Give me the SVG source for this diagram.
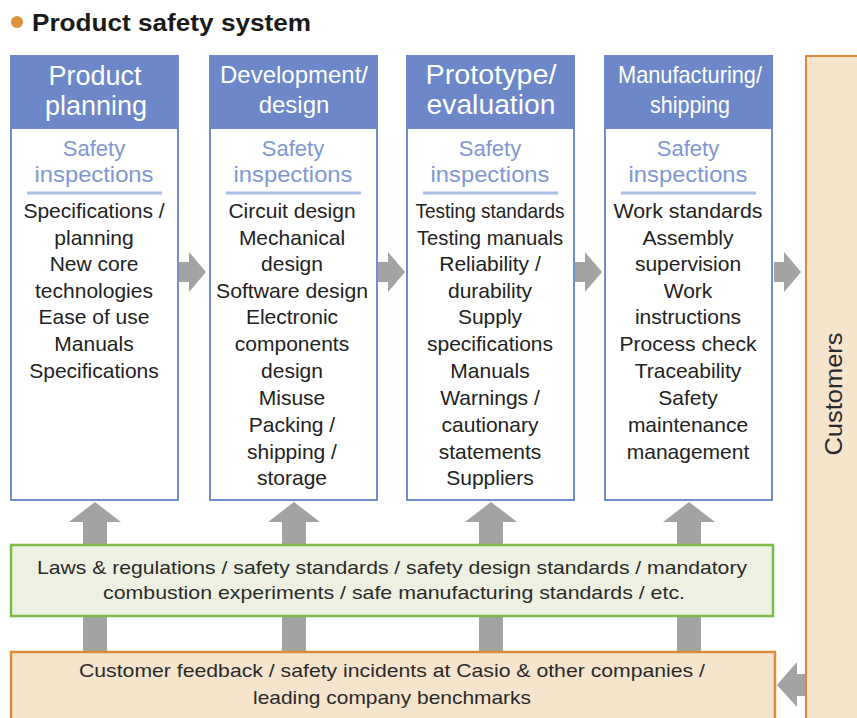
<svg xmlns="http://www.w3.org/2000/svg" width="857" height="718" viewBox="0 0 857 718">
<defs>
<style>
.hdr{fill:#6d88c9;stroke:#6d88c9;stroke-width:2}
.col{fill:#ffffff;stroke:#6f8fd0;stroke-width:2}
.ht{font-family:"Liberation Sans",Arial,sans-serif;fill:#ffffff;text-anchor:middle}
.si{font-family:"Liberation Sans",Arial,sans-serif;font-size:22px;fill:#7f98d4;text-anchor:middle}
.bt{font-family:"Liberation Sans",Arial,sans-serif;font-size:21px;fill:#222222;text-anchor:middle}
.ul{stroke:#a9bde3;stroke-width:3}
.arr{fill:#a3a3a3}
.gt{font-family:"Liberation Sans",Arial,sans-serif;font-size:19px;fill:#2a2a2a;text-anchor:middle}
</style>
</defs>
<rect x="0" y="0" width="857" height="718" fill="#ffffff"/>
<g id="title">
<circle cx="17" cy="22" r="6" fill="#e0913a"/>
<text x="32" y="31" font-family="Liberation Sans,Arial,sans-serif" font-size="23" font-weight="bold" fill="#1a1a1a" textLength="279" lengthAdjust="spacingAndGlyphs">Product safety system</text>
</g>
<g id="connectors">
<path class="arr" d="M179,262 H189 V252 L206,272 L189,292 V282 H179 Z"/>
<path class="arr" d="M378,262 H388 V252 L405,272 L388,292 V282 H378 Z"/>
<path class="arr" d="M575,262 H585 V252 L602,272 L585,292 V282 H575 Z"/>
<path class="arr" d="M774,262 H784 V252 L801,272 L784,292 V282 H774 Z"/>
<path class="arr" d="M83,545 V522 H69 L95,502 L121,522 H107 V545 Z"/>
<path class="arr" d="M282,545 V522 H268 L294,502 L320,522 H306 V545 Z"/>
<path class="arr" d="M479,545 V522 H465 L491,502 L517,522 H503 V545 Z"/>
<path class="arr" d="M677,545 V522 H663 L689,502 L715,522 H701 V545 Z"/>
<rect class="arr" x="83" y="616" width="24" height="37"/>
<rect class="arr" x="282" y="616" width="24" height="37"/>
<rect class="arr" x="479" y="616" width="24" height="37"/>
<rect class="arr" x="677" y="616" width="24" height="37"/>
<path class="arr" d="M806,674 H797 V662 L777,685 L797,707 V696 H806 Z"/>
</g>
<g id="customers">
<rect x="806" y="56" width="60" height="670" fill="#f6e4cc" stroke="#de8a3a" stroke-width="2"/>
<text transform="translate(842,394) rotate(-90)" text-anchor="middle" font-family="Liberation Sans,Arial,sans-serif" font-size="24" fill="#2a2a2a" textLength="123" lengthAdjust="spacingAndGlyphs">Customers</text>
</g>
<g id="product-planning">
<rect class="col" x="11" y="56" width="167" height="444"/>
<rect class="hdr" x="11" y="56" width="167" height="72"/>
<text class="ht" font-size="27" x="95" y="85">Product</text>
<text class="ht" font-size="27" x="96" y="115">planning</text>
<text class="si" x="94" y="156">Safety</text>
<text class="si" x="94" y="182" textLength="119" lengthAdjust="spacingAndGlyphs">inspections</text>
<line class="ul" x1="27" y1="193" x2="162" y2="193"/>
<text class="bt" x="94" y="218">Specifications /</text>
<text class="bt" x="94" y="245">planning</text>
<text class="bt" x="94" y="271">New core</text>
<text class="bt" x="94" y="298">technologies</text>
<text class="bt" x="94" y="324">Ease of use</text>
<text class="bt" x="94" y="351">Manuals</text>
<text class="bt" x="94" y="378">Specifications</text>
</g>
<g id="development-design">
<rect class="col" x="210" y="56" width="167" height="444"/>
<rect class="hdr" x="210" y="56" width="167" height="72"/>
<text class="ht" font-size="24" x="294" y="83" textLength="148" lengthAdjust="spacingAndGlyphs">Development/</text>
<text class="ht" font-size="24" x="294" y="113">design</text>
<text class="si" x="293" y="156">Safety</text>
<text class="si" x="293" y="182" textLength="119" lengthAdjust="spacingAndGlyphs">inspections</text>
<line class="ul" x1="226" y1="193" x2="361" y2="193"/>
<text class="bt" x="292" y="218">Circuit design</text>
<text class="bt" x="292" y="245">Mechanical</text>
<text class="bt" x="292" y="271">design</text>
<text class="bt" x="292" y="298" textLength="152" lengthAdjust="spacingAndGlyphs">Software design</text>
<text class="bt" x="292" y="324">Electronic</text>
<text class="bt" x="292" y="351">components</text>
<text class="bt" x="292" y="378">design</text>
<text class="bt" x="292" y="405">Misuse</text>
<text class="bt" x="292" y="432">Packing /</text>
<text class="bt" x="292" y="459">shipping /</text>
<text class="bt" x="292" y="485">storage</text>
</g>
<g id="prototype-evaluation">
<rect class="col" x="407" y="56" width="167" height="444"/>
<rect class="hdr" x="407" y="56" width="167" height="72"/>
<text class="ht" font-size="27" x="491" y="84" textLength="131" lengthAdjust="spacingAndGlyphs">Prototype/</text>
<text class="ht" font-size="27" x="491" y="114" textLength="129" lengthAdjust="spacingAndGlyphs">evaluation</text>
<text class="si" x="490" y="156">Safety</text>
<text class="si" x="490" y="182" textLength="119" lengthAdjust="spacingAndGlyphs">inspections</text>
<line class="ul" x1="423" y1="193" x2="558" y2="193"/>
<text class="bt" x="490" y="218" textLength="149" lengthAdjust="spacingAndGlyphs">Testing standards</text>
<text class="bt" x="490" y="245" textLength="146" lengthAdjust="spacingAndGlyphs">Testing manuals</text>
<text class="bt" x="490" y="271">Reliability /</text>
<text class="bt" x="490" y="298">durability</text>
<text class="bt" x="490" y="324">Supply</text>
<text class="bt" x="490" y="351">specifications</text>
<text class="bt" x="490" y="378">Manuals</text>
<text class="bt" x="490" y="405">Warnings /</text>
<text class="bt" x="490" y="432">cautionary</text>
<text class="bt" x="490" y="459">statements</text>
<text class="bt" x="490" y="485">Suppliers</text>
</g>
<g id="manufacturing-shipping">
<rect class="col" x="605" y="56" width="167" height="444"/>
<rect class="hdr" x="605" y="56" width="167" height="72"/>
<text class="ht" font-size="24" x="690" y="83" textLength="144" lengthAdjust="spacingAndGlyphs">Manufacturing/</text>
<text class="ht" font-size="24" x="690" y="113" textLength="80" lengthAdjust="spacingAndGlyphs">shipping</text>
<text class="si" x="688" y="156">Safety</text>
<text class="si" x="688" y="182" textLength="119" lengthAdjust="spacingAndGlyphs">inspections</text>
<line class="ul" x1="621" y1="193" x2="756" y2="193"/>
<text class="bt" x="688" y="218" textLength="149" lengthAdjust="spacingAndGlyphs">Work standards</text>
<text class="bt" x="688" y="245">Assembly</text>
<text class="bt" x="688" y="271">supervision</text>
<text class="bt" x="688" y="298">Work</text>
<text class="bt" x="688" y="324">instructions</text>
<text class="bt" x="688" y="351" textLength="137" lengthAdjust="spacingAndGlyphs">Process check</text>
<text class="bt" x="688" y="378">Traceability</text>
<text class="bt" x="688" y="405">Safety</text>
<text class="bt" x="688" y="432">maintenance</text>
<text class="bt" x="688" y="459">management</text>
</g>
<g id="laws-regulations">
<rect x="11" y="545" width="762" height="71" fill="#eef1e1" stroke="#7cbc45" stroke-width="2.5"/>
<text class="gt" x="392" y="574" textLength="710" lengthAdjust="spacingAndGlyphs">Laws &amp; regulations / safety standards / safety design standards / mandatory</text>
<text class="gt" x="394" y="599" textLength="582" lengthAdjust="spacingAndGlyphs">combustion experiments / safe manufacturing standards / etc.</text>
</g>
<g id="customer-feedback">
<rect x="11" y="652" width="764" height="80" fill="#f6e4cc" stroke="#de8a3a" stroke-width="2.5"/>
<text class="gt" x="392" y="677" textLength="626" lengthAdjust="spacingAndGlyphs">Customer feedback / safety incidents at Casio &amp; other companies /</text>
<text class="gt" x="392" y="704" textLength="278" lengthAdjust="spacingAndGlyphs">leading company benchmarks</text>
</g>
</svg>
